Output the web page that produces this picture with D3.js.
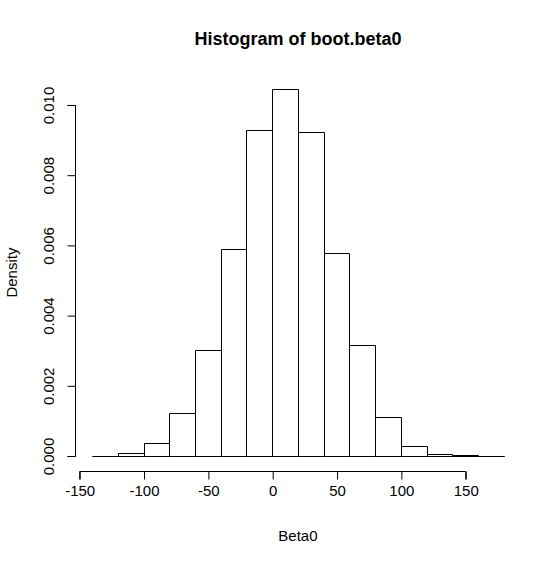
<!DOCTYPE html>
<html>
<head>
<meta charset="utf-8">
<script src="https://cdn.jsdelivr.net/npm/d3@7"></script>
<style>
  html, body { margin: 0; padding: 0; background: #fff; }
  svg { display: block; }
  text { font-family: "Liberation Sans", Arial, sans-serif; fill: #000; }
</style>
</head>
<body>
<svg id="chart" width="560" height="565"></svg>
<script>
// Bin edges (width 20) and densities
const binStarts = [-140, -120, -100, -80, -60, -40, -20, 0, 20, 40, 60, 80, 100, 120, 140, 160];
const binWidth = 20;
const densities = [0.0, 0.00009, 0.00037, 0.00122, 0.00301, 0.00591, 0.00930, 0.01045, 0.00922, 0.00579, 0.00317, 0.00110, 0.00028, 0.00007, 0.00002, 0.0];
const xTicks = [-150, -100, -50, 0, 50, 100, 150];
const yTicks = [0, 0.002, 0.004, 0.006, 0.008, 0.010];
const title = "Histogram of boot.beta0";
const xLabel = "Beta0";
const yLabel = "Density";

const svg = d3.select("#chart");

// plot region (R-style 4% extension)
const pLeft = 75.6, pRight = 520.3, pTop = 74.5, pBottom = 470.7;
const xmin = -140, xmax = 180;
const ymax = d3.max(densities);
const xr = (xmax - xmin) * 0.04, yr = ymax * 0.04;

const x = d3.scaleLinear().domain([xmin - xr, xmax + xr]).range([pLeft, pRight]);
const y = d3.scaleLinear().domain([-yr, ymax + yr]).range([pBottom, pTop]);

const bins = binStarts.map((s, i) => ({ x0: s, x1: s + binWidth, d: densities[i] }));

const fx = v => Math.round(x(v)) + 0.5;
const fy = v => Math.round(y(v)) + 0.5;

// bars (paths so that empty bins still show as a line on the baseline)
svg.append("g").selectAll("path").data(bins).join("path")
  .attr("d", d => `M${fx(d.x0)},${fy(0)}V${fy(d.d)}H${fx(d.x1)}V${fy(0)}Z`)
  .attr("fill", "#fff")
  .attr("stroke", "#000")
  .attr("stroke-width", 1);

// x axis
const xAxis = d3.axisBottom(x).tickValues(xTicks).tickSize(8).tickPadding(6).tickFormat(d3.format("d"));
const gx = svg.append("g").attr("transform", `translate(0.5,${Math.round(pBottom) + 0.5})`).call(xAxis);
gx.select(".domain").attr("d", `M${x(xTicks[0])},8V0H${x(xTicks[xTicks.length - 1])}V8`);
gx.selectAll("text").style("font-size", "15px").attr("fill", "#000").attr("font-family", "Liberation Sans, Arial, sans-serif")
  .text(d => d < 0 ? "-" + Math.abs(d) : String(d));
gx.selectAll("line, path").attr("stroke", "#000");

// y axis
const yAxis = d3.axisLeft(y).tickValues(yTicks).tickSize(8).tickFormat(d3.format(".3f"));
const gy = svg.append("g").attr("transform", `translate(${Math.round(pLeft) - 0.5},0.5)`).call(yAxis);
gy.select(".domain").attr("d", `M-8,${y(yTicks[0])}H0V${y(yTicks[yTicks.length - 1])}H-8`);
gy.selectAll("line, path").attr("stroke", "#000");
gy.selectAll(".tick").attr("transform", null);
gy.selectAll(".tick line").attr("transform", d => `translate(0,${y(d)})`);
gy.selectAll(".tick text")
  .style("font-size", "15px").attr("fill", "#000").attr("font-family", "Liberation Sans, Arial, sans-serif")
  .attr("x", null).attr("dy", null)
  .attr("text-anchor", "middle")
  .attr("transform", d => `translate(-22,${y(d)}) rotate(-90)`);

// title
svg.append("text").attr("x", (pLeft + pRight) / 2).attr("y", 45)
  .attr("text-anchor", "middle").style("font-size", "18px").style("font-weight", "bold")
  .text(title);

// x label
svg.append("text").attr("x", (pLeft + pRight) / 2).attr("y", 541)
  .attr("text-anchor", "middle").style("font-size", "15px").text(xLabel);

// y label
svg.append("text").attr("transform", `translate(17,${(pTop + pBottom) / 2}) rotate(-90)`)
  .attr("text-anchor", "middle").style("font-size", "15px").text(yLabel);
</script>
</body>
</html>
